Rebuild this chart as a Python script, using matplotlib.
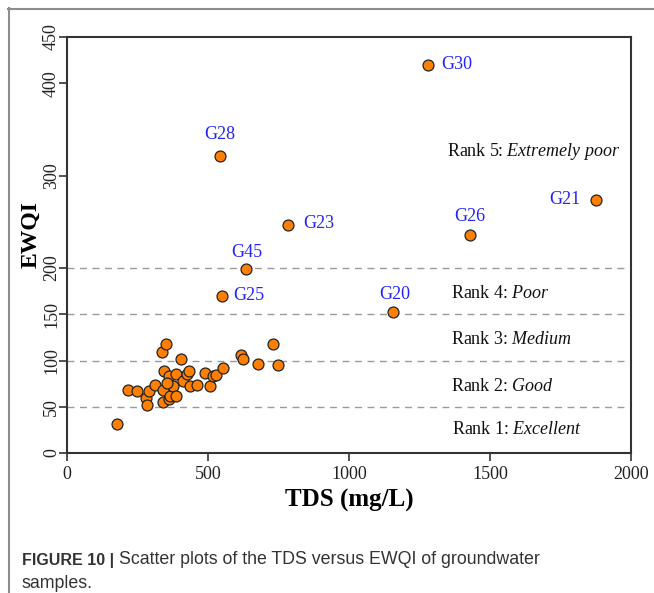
import matplotlib
matplotlib.use("Agg")
import matplotlib.pyplot as plt
from matplotlib.lines import Line2D

plt.rcParams['font.family'] = ['Liberation Serif', 'DejaVu Serif']
plt.rcParams['mathtext.fontset'] = 'custom'
plt.rcParams['mathtext.rm'] = 'Liberation Serif'
plt.rcParams['mathtext.it'] = 'Liberation Serif:italic'

# Groundwater samples: TDS (mg/L) and EWQI
tds = [176, 216, 249, 280, 283, 291, 313, 336, 350, 339, 342, 345, 360, 362,
       365, 376, 386, 388, 404, 412, 427, 433, 437, 460, 490, 507, 518, 527,
       553, 617, 625, 678, 730, 749, 354]
ewqi = [31, 68, 67, 59, 52, 67, 74, 109, 118, 55.5, 68, 89, 83, 58,
        62, 73, 62, 85, 102, 78, 85, 89, 72.5, 74, 86, 73, 83, 84,
        92, 106, 102, 96, 118, 95, 76]

# Labelled samples
lab_names = ["G30", "G28", "G23", "G45", "G25", "G20", "G26", "G21"]
lab_tds = [1281, 542, 785, 636, 549, 1156, 1430, 1875]
lab_ewqi = [420, 321, 247, 199, 170, 152, 236, 274]
# label placement: offset in pixels and alignment
lab_pos = {
    "G30": ((13, 0), "left"),
    "G28": ((0, 22), "center"),
    "G23": ((15, 1), "left"),
    "G45": ((0, 17), "center"),
    "G25": ((11, 0), "left"),
    "G20": ((2, 18), "center"),
    "G26": ((0, 18), "center"),
    "G21": ((-15, 0), "right"),
}

# Quality thresholds and rank descriptions
thresholds = [50, 100, 150, 200]
rank_labels = [r"Rank 1: $\it{Excellent}$", r"Rank 2: $\it{Good}$",
               r"Rank 3: $\it{Medium}$", r"Rank 4: $\it{Poor}$",
               r"Rank 5: $\it{Extremely\ poor}$"]
rank_x = [1366, 1363, 1363, 1363, 1349]
rank_y = [25, 72, 123, 172, 326]

xticks = [0, 500, 1000, 1500, 2000]
yticks = [0, 50, 100, 150, 200, 300, 400, 450]

fig = plt.figure(figsize=(6.54, 5.93), dpi=100)
ax = fig.add_axes([67 / 654, 1 - 453 / 593, (631 - 67) / 654, (453 - 37) / 593])

for t in thresholds:
    ax.axhline(t, color='#9a9a9a', lw=1.0, ls=(0, (5, 4)), zorder=1)

ax.scatter(tds, ewqi, s=62, c='#ff8000', edgecolors='#222222', linewidths=0.9, zorder=3)
ax.scatter(lab_tds, lab_ewqi, s=62, c='#ff8000', edgecolors='#222222', linewidths=0.9, zorder=3)

for name, x, y in zip(lab_names, lab_tds, lab_ewqi):
    off, ha = lab_pos[name]
    ax.annotate(name, (x, y), xytext=off, textcoords='offset pixels',
                ha=ha, va='center', color='#2222ff', fontsize=13)

for txt, x, y in zip(rank_labels, rank_x, rank_y):
    ax.text(x, y, txt, ha='left', va='center', fontsize=13, color='#111111')

ax.set_xlim(0, 2000)
ax.set_ylim(0, 450)
ax.set_xticks(xticks)
ax.set_yticks(yticks)
ax.tick_params(axis='both', direction='out', length=6, width=1.2, colors='#333333',
               labelsize=13, labelcolor='#222222')
ax.tick_params(axis='y', labelrotation=90, pad=-1)
for lbl in ax.get_yticklabels():
    lbl.set_va('center')
for sp in ax.spines.values():
    sp.set_color('#333333')
    sp.set_linewidth(1.5)

ax.set_xlabel("TDS (mg/L)", fontsize=18, fontweight='bold', labelpad=4)
ax.set_ylabel("EWQI", fontsize=17, fontweight='bold')
ax.yaxis.set_label_coords(-0.046, 0.524)

# Outer frame
fig.add_artist(Line2D([8 / 654, 1.0], [1 - 8.5 / 593, 1 - 8.5 / 593], color='#8c8c8c', lw=1.5))
fig.add_artist(Line2D([8.5 / 654, 8.5 / 654], [0, 1 - 8 / 593], color='#8c8c8c', lw=1.5))

# Caption: bold figure tag followed by the description on the same line
W, H = fig.get_size_inches() * fig.dpi
renderer = fig.canvas.get_renderer()
tag = fig.text(22 / W, 1 - 560 / H, "FIGURE 10 |", fontsize=11.5, fontweight='bold',
               family='Liberation Sans', color='#333333', va='center')
tag_right = tag.get_window_extent(renderer).x1
body = fig.text((tag_right + 5) / W, 1 - 560 / H,
                "Scatter plots of the TDS versus EWQI of groundwater",
                fontsize=12.5, family='Liberation Sans', color='#333333', va='center')
bw = body.get_window_extent(renderer).width
body.set_fontsize(12.5 * (540 - tag_right - 5) / bw)
fig.text(22 / W, 1 - 583 / H, "samples.", fontsize=body.get_fontsize(),
         family='Liberation Sans', color='#333333', va='center')

fig.savefig("out.png", dpi=100)
